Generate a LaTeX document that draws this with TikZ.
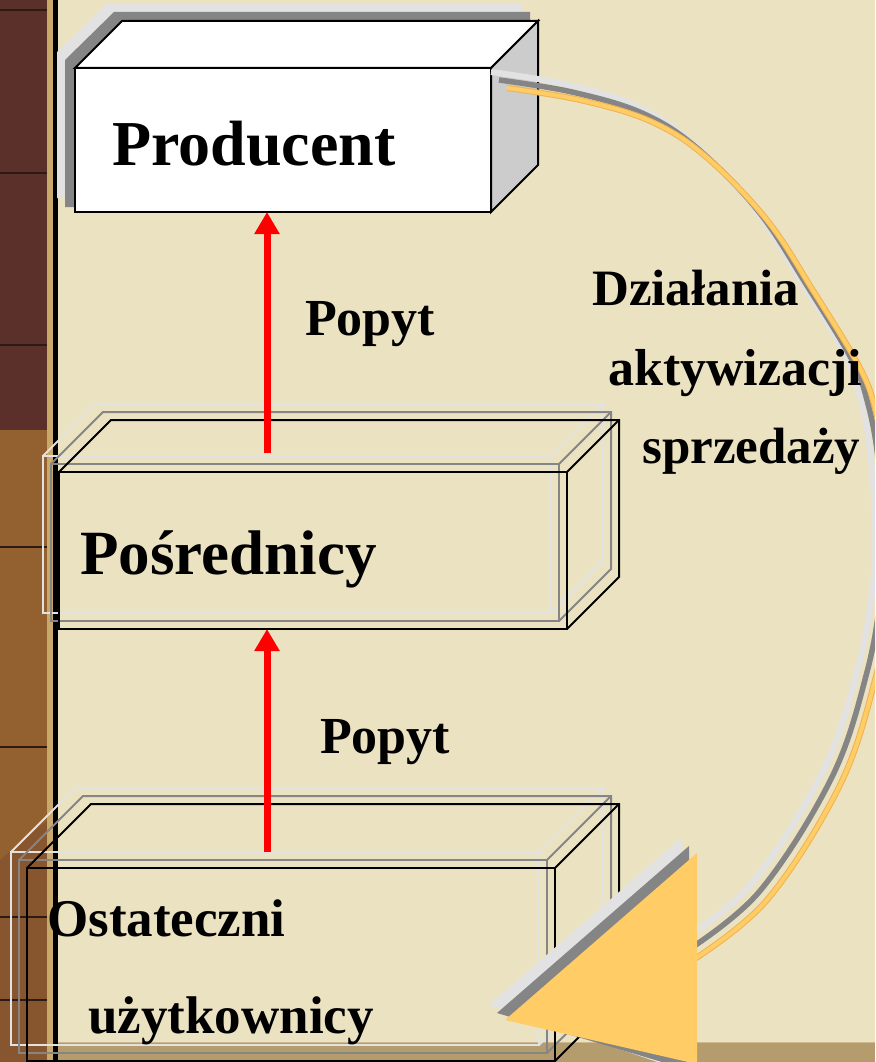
\documentclass[tikz,border=0pt]{standalone}
\usepackage{fontspec}
\setmainfont{Liberation Serif}
\usetikzlibrary{arrows.meta}
\definecolor{bgc}{HTML}{EBE2C1}
\definecolor{brdark}{HTML}{5C302A}
\definecolor{brmid}{HTML}{93602F}
\definecolor{brline}{HTML}{2E1A14}
\definecolor{tanstrip}{HTML}{C9A86C}
\definecolor{band}{HTML}{B49C6C}
\definecolor{bandtop}{HTML}{CDB98C}
\definecolor{shgray}{HTML}{858585}
\definecolor{shlight}{HTML}{E2E2E2}
\definecolor{sideface}{HTML}{CCCCCC}
\definecolor{orangeA}{HTML}{FFCC66}
\definecolor{orangeB}{HTML}{EDB352}
\newcommand\mywirebox[6]{%
  \draw[#1] (#2,#3) rectangle ++(#4,#5);
  \draw[#1] (#2,#3) -- ++(#6,-#6) -- ++(#4,0) -- ++(0,#5) -- ++(-#6,#6);
  \draw[#1] (#2+#4,#3) -- ++(#6,-#6);
}
\tikzset{
  wireblack/.style={draw=black,line width=2pt,line join=miter},
  wiregray/.style={draw=shgray,line width=2pt},
  wirelight/.style={draw=shlight,line width=2pt},
  redarrow/.style={draw=red,line width=7pt,-{Triangle[width=24pt,length=22pt]}},
  bigtxt/.style={inner sep=0pt,anchor=base west,font=\bfseries\fontsize{64}{64}\selectfont},
  midtxt/.style={inner sep=0pt,anchor=base west,font=\bfseries\fontsize{52}{52}\selectfont},
}
\begin{document}
\begin{tikzpicture}[x=1pt,y=-1pt]
\clip (0,0) rectangle (875,1062);
% background
\fill[bgc] (0,0) rectangle (875,1062);
% left brick strip
\fill[brdark] (0,0) rectangle (48,1062);
\fill[brmid] (0,430) rectangle (48,860);
\fill[brmid!80!brdark] (0,860) -- (48,820) -- (48,1062) -- (0,1062) -- cycle;
\foreach \yy in {10,173,345,547,747,917,1000}
  \draw[brline,line width=1.5pt] (0,\yy) -- (47,\yy);
\fill[tanstrip] (47,0) rectangle (53,1062);
\fill[black] (53,0) rectangle (58,1062);
% bottom band
\fill[band] (58,1042) rectangle (875,1062);
\draw[bandtop,line width=1pt] (58,1042.5) -- (875,1042.5);
% Ostateczni uzytkownicy box (wireframes)
\mywirebox{wirelight}{11}{852}{528}{193}{64}
\mywirebox{wiregray}{19}{860}{528}{193}{64}
\mywirebox{wireblack}{27}{868}{528}{193}{64}
% Posrednicy box (wireframes)
\mywirebox{wirelight}{43}{456}{508}{157}{52}
\mywirebox{wiregray}{51}{464}{508}{157}{52}
\mywirebox{wireblack}{59}{472}{508}{157}{52}
% Producent box with shadows
\fill[shlight] (57,198) -- (57,52) -- (106,4) -- (522,4) -- (522,40) -- (480,198) -- cycle;
\fill[shgray] (65,207) -- (65,60) -- (114,12) -- (530,12) -- (530,40) -- (480,207) -- cycle;
\filldraw[fill=white,draw=black,line width=2pt,line join=miter] (75,68) -- (122,21) -- (538,21) -- (491,68) -- cycle;
\filldraw[fill=sideface,draw=black,line width=2pt,line join=miter] (491,68) -- (538,21) -- (538,165) -- (491,212) -- cycle;
\filldraw[fill=white,draw=black,line width=2pt] (75,68) rectangle (491,212);
% curved arrow (sales activation)
\def\arcpts{(507,88) (580,100) (650,121) (705,156) (767,220) (814,292) (860,368) (876,412) (886,466) (891,540) (889,600) (875,680) (840,785) (767,900) (690,962)}
\draw[shlight,line width=6pt,shift={(-16,-16)}] plot[smooth,tension=0.6] coordinates {\arcpts};
\draw[shgray,line width=5.5pt,shift={(-8,-8)}] plot[smooth,tension=0.6] coordinates {\arcpts};
\draw[orangeB,line width=6pt] plot[smooth,tension=0.6] coordinates {\arcpts};
\draw[orangeA,line width=4pt] plot[smooth,tension=0.6] coordinates {\arcpts};
% arrow head triangle with shadows
\fill[shlight] (489,1005) -- (681,838) -- (681,1070) -- cycle;
\fill[shgray] (497,1013) -- (689,846) -- (689,1070) -- cycle;
\fill[orangeA] (505,1020) -- (697,853) -- (697,1064) -- cycle;
% demand arrows
\coordinate (prodS) at (267,212);
\coordinate (posTop) at (267,453);
\coordinate (posS) at (267,629);
\coordinate (ostTop) at (267,852);
\draw[redarrow] (posTop) -- (prodS);
\draw[redarrow] (ostTop) -- (posS);
% texts
\node[bigtxt] (producent) at (112,165) {Producent};
\node[midtxt] (popyt1) at (305,335) {Popyt};
\node[midtxt] (popyt2) at (320,753) {Popyt};
\node[midtxt,font=\bfseries\fontsize{51}{51}\selectfont] (dzialania) at (592,305) {Działania};
\node[midtxt,font=\bfseries\fontsize{52}{52}\selectfont] (aktyw) at (608,385) {aktywizacji};
\node[midtxt,font=\bfseries\fontsize{51}{51}\selectfont] (sprzed) at (642,463) {sprzedaży};
\node[bigtxt,font=\bfseries\fontsize{63}{63}\selectfont] (posrednicy) at (80,574) {Pośrednicy};
\node[midtxt,font=\bfseries\fontsize{53}{53}\selectfont] (ostateczni) at (47,936) {Ostateczni};
\node[midtxt,font=\bfseries\fontsize{53}{53}\selectfont] (uzytk) at (88,1033) {użytkownicy};
\end{tikzpicture}
\end{document}
